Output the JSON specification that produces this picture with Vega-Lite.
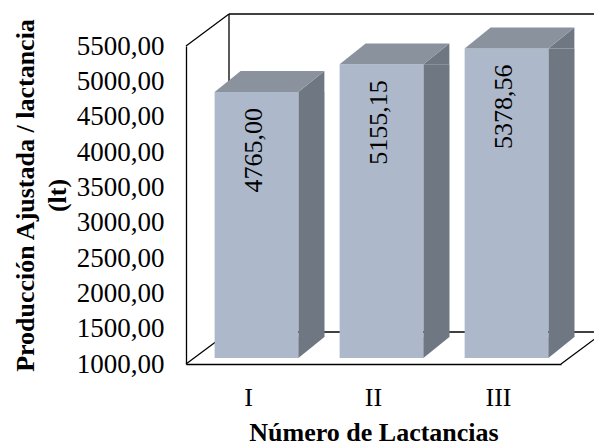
{
  "$schema": "https://vega.github.io/schema/vega-lite/v6.json",
  "width": 375,
  "height": 318,
  "autosize": "none",
  "padding": {"left": 186, "top": 46, "right": 33, "bottom": 82},
  "background": "white",
  "layer": [
    {
      "data": {"values": [{}]},
      "layer": [
        {
          "mark": {"type": "rule", "color": "black", "strokeWidth": 1.3, "xOffset": 43, "x2Offset": 43, "yOffset": -32, "y2Offset": -32},
          "encoding": {
            "x": {"datum": 0, "type": "quantitative", "scale": {"domain": [0, 1]}, "axis": null},
            "x2": {"datum": 1},
            "y": {"datum": 5500, "type": "quantitative", "axis": null}
          }
        },
        {
          "mark": {"type": "rule", "color": "black", "strokeWidth": 1.3, "xOffset": 43, "x2Offset": 43, "yOffset": -32, "y2Offset": -32},
          "encoding": {
            "x": {"datum": 0, "type": "quantitative", "scale": {"domain": [0, 1]}, "axis": null},
            "x2": {"datum": 1},
            "y": {"datum": 1000, "type": "quantitative", "axis": null}
          }
        },
        {
          "mark": {"type": "rule", "color": "black", "strokeWidth": 1.3, "xOffset": 43, "x2Offset": 43, "yOffset": -32, "y2Offset": -32},
          "encoding": {
            "x": {"datum": 0, "type": "quantitative", "scale": {"domain": [0, 1]}, "axis": null},
            "y": {"datum": 1000, "type": "quantitative", "axis": null},
            "y2": {"datum": 5500}
          }
        },
        {
          "mark": {"type": "rule", "color": "black", "strokeWidth": 1.3, "x2Offset": 43, "y2Offset": -32},
          "encoding": {
            "x": {"datum": 0, "type": "quantitative", "scale": {"domain": [0, 1]}, "axis": null},
            "x2": {"datum": 0},
            "y": {"datum": 5500, "type": "quantitative", "axis": null},
            "y2": {"datum": 5500}
          }
        },
        {
          "mark": {"type": "rule", "color": "black", "strokeWidth": 1.3, "x2Offset": 43, "y2Offset": -32},
          "encoding": {
            "x": {"datum": 0, "type": "quantitative", "scale": {"domain": [0, 1]}, "axis": null},
            "x2": {"datum": 0},
            "y": {"datum": 1000, "type": "quantitative", "axis": null},
            "y2": {"datum": 1000}
          }
        },
        {
          "mark": {"type": "rule", "color": "black", "strokeWidth": 1.3, "x2Offset": 43, "y2Offset": -32},
          "encoding": {
            "x": {"datum": 1, "type": "quantitative", "scale": {"domain": [0, 1]}, "axis": null},
            "x2": {"datum": 1},
            "y": {"datum": 1000, "type": "quantitative", "axis": null},
            "y2": {"datum": 1000}
          }
        }
      ]
    },
    {
      "data": {
        "values": [
          {"Lactancia": "I", "Produccion": 4765.00},
          {"Lactancia": "II", "Produccion": 5155.15},
          {"Lactancia": "III", "Produccion": 5378.56}
        ]
      },
      "encoding": {
        "x": {
          "field": "Lactancia",
          "type": "nominal",
          "scale": {"paddingInner": 0.33, "paddingOuter": 0.165},
          "title": "Número de Lactancias",
          "axis": {
            "labelAngle": 0,
            "ticks": false,
            "tickSize": 0,
            "labelPadding": 20,
            "titleBaseline": "middle",
            "titleY": 68
          }
        },
        "y": {
          "field": "Produccion",
          "type": "quantitative",
          "scale": {"domain": [1000, 5500], "zero": false, "nice": false},
          "title": ["Producción Ajustada / lactancia", "(lt)"],
          "axis": {
            "values": [1000, 1500, 2000, 2500, 3000, 3500, 4000, 4500, 5000, 5500],
            "format": ".2f",
            "ticks": false,
            "tickSize": 0,
            "labelPadding": 22,
            "labelFlush": false,
            "labelOverlap": false,
            "labelFontSize": 27,
            "titleBaseline": "middle",
            "titleLineHeight": 32,
            "titleX": -161,
            "titleY": 149
          }
        }
      },
      "layer": [
        {
          "mark": {"type": "bar", "color": "#ADB8CB", "xOffset": 8, "x2Offset": 8, "yOffset": -6, "y2Offset": -6},
          "encoding": {"y2": {"datum": 1000}}
        },
        {
          "mark": {"type": "bar", "color": "#6F7783", "width": 26, "xOffset": 63, "x2Offset": 63, "yOffset": -6, "y2Offset": -27},
          "encoding": {"y2": {"datum": 1000}}
        },
        {
          "mark": {"type": "point", "shape": "M 0.526 0.191 L 1 -0.191 L 1 0.191 Z", "size": 12045, "filled": true, "opacity": 1, "color": "#6F7783", "strokeWidth": 0, "xOffset": 21, "yOffset": -16.5}
        },
        {
          "mark": {"type": "point", "shape": "M 0.526 -0.191 L 0.526 0.191 L 1 -0.191 Z", "size": 12045, "filled": true, "opacity": 1, "color": "#6F7783", "strokeWidth": 0, "xOffset": 21, "yOffset": -16.5},
          "encoding": {
            "y": {
              "datum": 1000,
              "type": "quantitative",
              "title": ["Producción Ajustada / lactancia", "(lt)"],
              "axis": {
                "values": [1000, 1500, 2000, 2500, 3000, 3500, 4000, 4500, 5000, 5500],
                "format": ".2f",
                "ticks": false,
                "tickSize": 0,
                "labelPadding": 22,
                "labelFlush": false,
                "labelOverlap": false,
                "labelFontSize": 27,
                "titleBaseline": "middle",
                "titleLineHeight": 32,
                "titleX": -161,
                "titleY": 149
              }
            }
          }
        },
        {
          "mark": {"type": "point", "shape": "M -1 0.191 L 0.526 0.191 L 1 -0.191 L -0.526 -0.191 Z", "size": 12045, "filled": true, "opacity": 1, "color": "#8A929E", "strokeWidth": 0, "xOffset": 21, "yOffset": -16.5}
        },
        {
          "mark": {"type": "text", "angle": 270, "align": "right", "baseline": "middle", "font": "Liberation Serif", "fontSize": 26, "color": "black", "xOffset": 5, "yOffset": 10},
          "encoding": {"text": {"field": "Produccion", "type": "quantitative", "format": ".2f"}}
        }
      ]
    }
  ],
  "resolve": {"scale": {"x": "independent"}, "axis": {"y": "independent"}},
  "config": {
    "locale": {
      "number": {"decimal": ",", "thousands": ".", "grouping": [3], "currency": ["", ""]}
    },
    "view": {"stroke": null},
    "axis": {
      "grid": false,
      "domainColor": "black",
      "domainWidth": 1.3,
      "labelFont": "Liberation Serif",
      "labelFontSize": 26,
      "labelColor": "black",
      "titleFont": "Liberation Serif",
      "titleFontSize": 26,
      "titleFontWeight": "bold",
      "titleColor": "black"
    }
  }
}
